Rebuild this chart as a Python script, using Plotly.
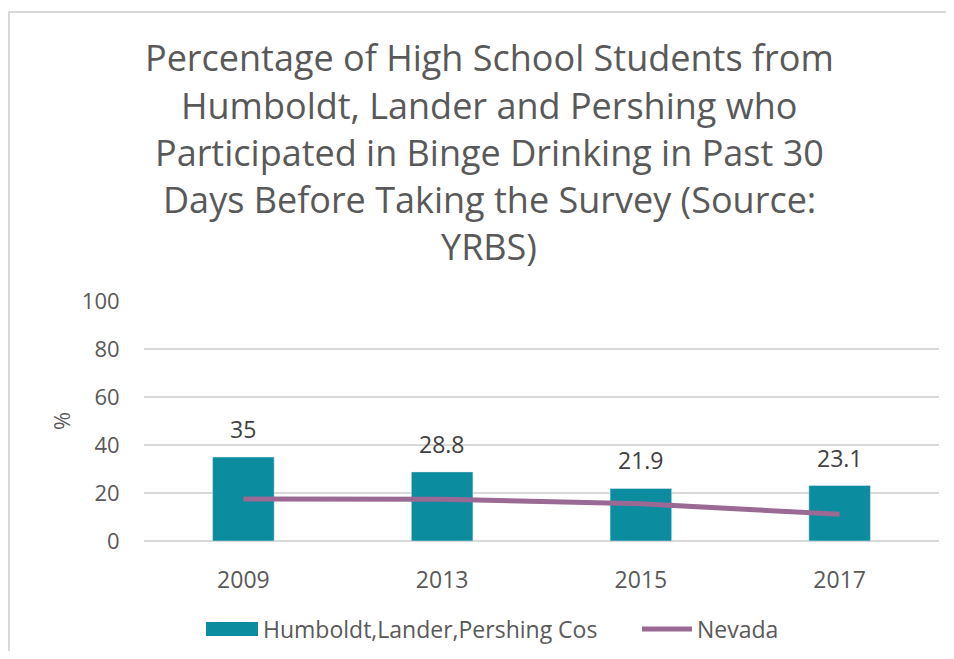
import plotly.graph_objects as go

years = ["2009", "2013", "2015", "2017"]
county_vals = [35, 28.8, 21.9, 23.1]
nevada_vals = [17.5, 17.4, 15.5, 11.1]
county_name = "Humboldt,Lander,Pershing Cos"
nevada_name = "Nevada"
title_lines = [
    "Percentage of High School Students from",
    "Humboldt, Lander and Pershing who",
    "Participated in Binge Drinking in Past 30",
    "Days Before Taking the Survey (Source:",
    "YRBS)",
]
y_ticks = [0, 20, 40, 60, 80, 100]

TEAL = "#0B8C9F"
PURPLE = "#9A6994"
GRID = "#D9D9D9"
TXT = "#595959"
FONT = "Open Sans"

# page offset of the figure in the browser (body margin); figure sized to avoid scrollbars
OFF = 8
W, H = 954 - 2 * OFF, 659 - 2 * OFF
PL, PR, PT, PB = 144, 939, 301, 541  # plot area in page pixels
L, T = PL - OFF, PT - OFF
R = W - (PR - OFF)
B = H - (PB - OFF)
pw, ph = PR - PL, PB - PT


def px2x(px):
    return (px - PL) / pw


def py2y(py):
    return (PB - py) / ph


fig = go.Figure()
fig.add_trace(go.Bar(x=years, y=county_vals, name=county_name, marker_color=TEAL,
                     width=0.31, showlegend=False))
fig.add_trace(go.Scatter(x=years, y=nevada_vals, name=nevada_name, mode="lines",
                         line=dict(color=PURPLE, width=5), showlegend=False))

annotations = []
for i, val in enumerate(county_vals):
    annotations.append(dict(x=i, y=val, xref="x", yref="y", text=str(val), showarrow=False,
                            yanchor="bottom", yshift=10,
                            font=dict(family=FONT, size=23, color="#404040")))

title_y = [57, 105, 152, 199, 246]
for line, ty in zip(title_lines, title_y):
    annotations.append(dict(x=px2x(489), y=py2y(ty), xref="paper", yref="paper", text=line,
                            showarrow=False, xanchor="center", yanchor="middle",
                            font=dict(family=FONT, size=36, color=TXT)))

annotations.append(dict(x=px2x(61), y=py2y(421), xref="paper", yref="paper", text="%",
                        textangle=-90, showarrow=False, xanchor="center", yanchor="middle",
                        font=dict(family=FONT, size=22, color=TXT)))

# custom legend
annotations.append(dict(x=px2x(261), y=py2y(629), xref="paper", yref="paper", text=county_name,
                        showarrow=False, xanchor="left", yanchor="middle",
                        font=dict(family=FONT, size=23, color=TXT)))
annotations.append(dict(x=px2x(695), y=py2y(629), xref="paper", yref="paper", text=nevada_name,
                        showarrow=False, xanchor="left", yanchor="middle",
                        font=dict(family=FONT, size=23, color=TXT)))

right_edge = W + OFF
bottom_edge = H + OFF
shapes = [
    # chart frame: only top and left edges are visible in the reference
    dict(type="line", xref="paper", yref="paper", x0=px2x(8), x1=px2x(right_edge),
         y0=py2y(12), y1=py2y(12), line=dict(color=GRID, width=2), layer="below"),
    dict(type="line", xref="paper", yref="paper", x0=px2x(9), x1=px2x(9),
         y0=py2y(11), y1=py2y(bottom_edge), line=dict(color=GRID, width=2), layer="below"),
    dict(type="rect", xref="paper", yref="paper", x0=px2x(206), x1=px2x(258),
         y0=py2y(636), y1=py2y(622), line=dict(width=0), fillcolor=TEAL),
    dict(type="line", xref="paper", yref="paper", x0=px2x(642), x1=px2x(692),
         y0=py2y(629), y1=py2y(629), line=dict(color=PURPLE, width=5)),
]

fig.update_layout(
    width=W, height=H,
    margin=dict(l=L, r=R, t=T, b=B),
    paper_bgcolor="white", plot_bgcolor="white",
    annotations=annotations, shapes=shapes,
    font=dict(family=FONT, color=TXT),
    showlegend=False,
)
fig.update_xaxes(type="category", range=[-0.5, len(years) - 0.5], showgrid=False, showline=False,
                 ticks="outside", ticklen=18,
                 tickcolor="rgba(0,0,0,0)", tickfont=dict(family=FONT, size=23, color=TXT))
fig.update_yaxes(range=[0, 100], tickvals=y_ticks, showgrid=True, gridcolor=GRID, gridwidth=2,
                 zeroline=True, zerolinecolor=GRID, zerolinewidth=2, showline=False,
                 ticks="outside", ticklen=19, tickcolor="rgba(0,0,0,0)",
                 tickfont=dict(family=FONT, size=22, color=TXT))

fig.write_html("out.html")
